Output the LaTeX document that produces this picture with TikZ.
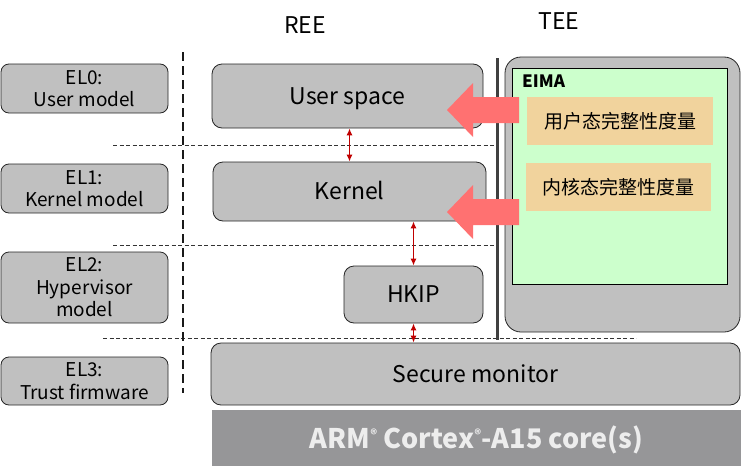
\documentclass[tikz,border=0pt]{standalone}
\usepackage{fontspec}
\setmainfont{Noto Sans CJK SC}
\usetikzlibrary{arrows.meta}

\definecolor{boxgray}{RGB}{192,192,192}
\definecolor{armgray}{RGB}{150,150,152}
\definecolor{eimagreen}{RGB}{204,255,204}
\definecolor{measuretan}{RGB}{241,211,157}
\definecolor{pushpink}{RGB}{255,113,113}
\definecolor{callred}{RGB}{192,0,0}

\begin{document}
\begin{tikzpicture}[x=1pt, y=-1pt,
  elbox/.style={draw=black!85, fill=boxgray, rounded corners=8pt, line width=0.8pt,
    inner sep=0pt, align=center, font=\fontsize{19}{22.5}\selectfont, minimum width=167pt},
  swbox/.style={draw=black!85, fill=boxgray, rounded corners=10pt, line width=0.8pt,
    inner sep=0pt, text height=16.5pt, text depth=0pt, font=\fontsize{23}{26}\selectfont},
  tanbox/.style={fill=measuretan, inner sep=0pt, minimum width=186pt, minimum height=48pt,
    font=\fontsize{19}{22}\selectfont},
  levelline/.style={black!80, line width=0.9pt, dash pattern=on 4pt off 2.5pt},
  callarrow/.style={callred, line width=1.3pt, {Latex[length=7pt,width=6pt]}-{Latex[length=7pt,width=6pt]}},
  pusharrow/.style={fill=pushpink}]

  \useasboundingbox (0,0) rectangle (741,466);

  % =============================================
  % STEP 1: world titles
  % =============================================
  \node[font=\fontsize{23}{26}\selectfont] (ree) at (305,25) {REE};
  \node[font=\fontsize{23}{26}\selectfont] (tee) at (559,21) {TEE};

  % =============================================
  % STEP 2: separators (EL borders, REE/TEE split)
  % =============================================
  \draw[levelline] (113,145) -- (497,145);
  \draw[levelline] (113,245) -- (497,245);
  \draw[levelline] (103,338) -- (636,338);
  \draw[black!90, line width=2.6pt, dash pattern=on 9pt off 5pt] (183,52) -- (183,393);
  \draw[black!75, line width=3pt] (497,58) -- (497,340);

  % =============================================
  % STEP 3: exception levels
  % =============================================
  \node[elbox, minimum height=49pt] (el0) at (84.5,88.5) {EL0:\\User model};
  \node[elbox, minimum height=49pt] (el1) at (84.5,188.5) {EL1:\\Kernel model};
  \node[elbox, minimum height=71pt] (el2) at (84.5,287.5) {EL2:\\Hypervisor\\model};
  \node[elbox, minimum height=48pt] (el3) at (84.5,381) {EL3:\\Trust firmware};

  % =============================================
  % STEP 4: REE software stack
  % =============================================
  \node[swbox, minimum width=271pt, minimum height=64pt] (user) at (347.5,96) {User space};
  \node[swbox, minimum width=273pt, minimum height=59pt] (kernel) at (349.5,191.5) {Kernel};
  \node[swbox, minimum width=139pt, minimum height=57pt] (hkip) at (413.5,294.5) {HKIP};
  \node[swbox, minimum width=529pt, minimum height=62pt] (secmon) at (475.5,374) {Secure monitor};
  \node[fill=armgray, text=black!7, inner sep=0pt, minimum width=529pt, minimum height=56pt,
    text height=20pt, text depth=0pt, font=\fontsize{27}{30}\selectfont\bfseries] (arm) at (476.5,438)
    {ARM\raisebox{0.3em}{\fontsize{13}{14}\selectfont ®} Cortex\raisebox{0.3em}{\fontsize{13}{14}\selectfont ®}-A15 core(s)};

  \draw[callarrow] (user.south -| kernel.north) -- (kernel.north);
  \draw[callarrow] (kernel.south -| hkip.north) -- (hkip.north);
  \draw[callarrow] (hkip.south) -- (hkip.south |- secmon.north);

  % =============================================
  % STEP 5: TEE side with EIMA
  % =============================================
  \node[draw=black!85, fill=boxgray, rounded corners=16pt, line width=0.8pt,
    minimum width=235pt, minimum height=275pt] (teebox) at (622.5,194.5) {};
  \node[draw=black, fill=eimagreen, line width=0.8pt,
    minimum width=215pt, minimum height=216pt] (eima) at (619.5,176) {};
  \node[anchor=west, inner sep=0pt, font=\fontsize{17}{20}\selectfont\bfseries] (eimalabel)
    at (522,81.5) {EIMA};
  \node[tanbox] (usermeas) at (620,121) {用户态完整性度量};
  \node[tanbox, minimum width=185pt] (kernmeas) at (618.5,187) {内核态完整性度量};

  % =============================================
  % STEP 6: measurement arrows (on top of everything)
  % =============================================
  \coordinate (usertip) at (447,110);
  \coordinate (kerntip) at (447,212);
  \fill[pusharrow] (usertip) -- ++(26,-27) -- ++(0,14) -- ++(46,0) -- ++(0,26)
    -- ++(-46,0) -- ++(0,14) -- cycle;
  \fill[pusharrow] (kerntip) -- ++(26,-27) -- ++(0,14) -- ++(46,0) -- ++(0,26)
    -- ++(-46,0) -- ++(0,14) -- cycle;

\end{tikzpicture}
\end{document}
